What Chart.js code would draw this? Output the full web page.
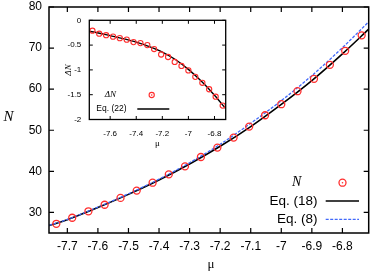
<!DOCTYPE html>
<html><head><meta charset="utf-8">
<script src="https://cdn.jsdelivr.net/npm/chart.js@4"></script>
<style>
html,body{margin:0;padding:0;background:#fff;}
#wrap{position:relative;width:374px;height:271px;}
canvas{position:absolute;left:0;top:0;width:374px;height:271px;}
</style></head><body>
<div id="wrap"><canvas id="main" width="374" height="271"></canvas><canvas id="inset" width="374" height="271"></canvas></div>
<script>
// ---- data ----
const mu = [-7.736,-7.684,-7.631,-7.578,-7.526,-7.473,-7.421,-7.368,-7.315,-7.263,-7.209,-7.156,-7.105,-7.053,-7.000,-6.947,-6.893,-6.841,-6.791,-6.737];
const nPoints = [27.24,28.71,30.28,31.88,33.54,35.32,37.24,39.27,41.22,43.49,45.78,48.22,50.90,53.66,56.34,59.51,62.51,65.93,69.34,73.10];
const curveMu = [-7.76,-7.7,-7.6,-7.5,-7.4,-7.3,-7.2,-7.1,-7.0,-6.9,-6.8,-6.714];
const eq18 = [26.8,28.25,31.2,34.4,37.9,41.8,46.1,50.9,56.3,62.1,68.6,74.6];
const eq8 = [26.85,28.3,31.3,34.55,38.1,42.1,46.6,51.7,57.2,63.3,70.1,76.4];
const dN = [-0.21,-0.27,-0.30,-0.33,-0.36,-0.39,-0.44,-0.46,-0.50,-0.58,-0.69,-0.74,-0.84,-0.92,-1.01,-1.14,-1.26,-1.39,-1.54,-1.72];
const eq22 = [-0.22,-0.25,-0.31,-0.37,-0.44,-0.53,-0.64,-0.79,-0.99,-1.23,-1.51,-1.78];
const xTicksMain = [-7.7,-7.6,-7.5,-7.4,-7.3,-7.2,-7.1,-7.0,-6.9,-6.8];
const yTicksMain = [30,40,50,60,70,80];
const xTicksInset = [-7.6,-7.4,-7.2,-7.0,-6.8];
const yTicksInset = [0,-0.5,-1,-1.5,-2];
const labelN = 'N', label18 = 'Eq. (18)', label8 = 'Eq. (8)';
const labelDN = '\u0394N', label22 = 'Eq. (22)';
const xTitle = '\u03bc', yTitleMain = 'N', yTitleInset = '\u0394N';

const pts = (xs, ys) => xs.map((x, i) => ({x, y: ys[i]}));
const fmt = v => String(parseFloat(Number(v).toFixed(2)));
const RED = 'rgb(255,45,45)', BLUE = 'rgb(65,105,250)';
const SANS = "'Liberation Sans', Arial, sans-serif";
const SERIF = "'Liberation Serif', 'DejaVu Serif', serif";

const decor = {
  id: 'decor',
  afterDraw(chart, args, o) {
    const ctx = chart.ctx, a = chart.chartArea, xs = chart.scales.x, ys = chart.scales.y;
    ctx.save();
    ctx.strokeStyle = '#000';
    ctx.lineWidth = o.frameWidth;
    ctx.strokeRect(a.left, a.top, a.right - a.left, a.bottom - a.top);
    ctx.lineWidth = o.tickWidth;
    ctx.beginPath();
    xs.ticks.forEach(t => {
      const p = xs.getPixelForValue(t.value);
      ctx.moveTo(p, a.bottom); ctx.lineTo(p, a.bottom - o.tickLen);
      ctx.moveTo(p, a.top); ctx.lineTo(p, a.top + o.tickLen);
    });
    ys.ticks.forEach(t => {
      const p = ys.getPixelForValue(t.value);
      ctx.moveTo(a.left, p); ctx.lineTo(a.left + o.tickLen, p);
      ctx.moveTo(a.right, p); ctx.lineTo(a.right - o.tickLen, p);
    });
    ctx.stroke();
    ctx.fillStyle = '#000';
    ctx.textAlign = 'center';
    ctx.textBaseline = 'middle';
    (o.texts || []).forEach(t => {
      ctx.save();
      ctx.font = t.font;
      ctx.translate(t.x, t.y);
      if (t.rot) ctx.rotate(t.rot);
      ctx.textAlign = t.align || 'center';
      ctx.fillText(t.text, 0, 0);
      ctx.restore();
    });
    (o.legend || []).forEach(it => {
      const ds = chart.data.datasets[it.ds];
      ctx.save();
      ctx.font = it.font;
      ctx.textAlign = it.align;
      ctx.fillStyle = '#000';
      ctx.fillText(ds.label, it.tx, it.y);
      if (it.kind === 'point') {
        const cx = (it.x1 + it.x2) / 2;
        ctx.strokeStyle = ds.borderColor;
        ctx.lineWidth = ds.borderWidth;
        ctx.beginPath(); ctx.arc(cx, it.y, ds.pointRadius, 0, Math.PI * 2); ctx.stroke();
        ctx.fillStyle = ds.borderColor;
        ctx.beginPath(); ctx.arc(cx, it.y, 0.8, 0, Math.PI * 2); ctx.fill();
      } else {
        ctx.strokeStyle = ds.borderColor;
        ctx.lineWidth = ds.borderWidth;
        ctx.setLineDash(ds.borderDash || []);
        ctx.beginPath(); ctx.moveTo(it.x1, it.y); ctx.lineTo(it.x2, it.y); ctx.stroke();
      }
      ctx.restore();
    });
    ctx.restore();
  }
};

function scaleCfg(min, max, tickVals, size, pad, fitKey, fitVal) {
  return {
    type: 'linear', min, max,
    grid: {display: false, drawTicks: false},
    border: {display: false},
    afterBuildTicks: s => { s.ticks = tickVals.map(v => ({value: v})); },
    afterFit: s => {
      s[fitKey] = fitVal;
      s.paddingTop = 0; s.paddingBottom = 0; s.paddingLeft = 0; s.paddingRight = 0;
    },
    ticks: {color: '#000', font: {family: SANS, size}, padding: pad, callback: fmt, maxRotation: 0, autoSkip: false}
  };
}

new Chart(document.getElementById('main'), {
  type: 'scatter',
  data: {datasets: [
    {label: labelN, data: pts(mu, nPoints), showLine: false, pointStyle: 'circle', pointRadius: 3.5, pointBorderWidth: 1.3, borderWidth: 1.3, borderColor: RED, pointBorderColor: RED, backgroundColor: 'rgba(0,0,0,0)', pointBackgroundColor: 'rgba(0,0,0,0)', order: 0},
    {label: label18, data: pts(curveMu, eq18), showLine: true, pointRadius: 0, borderColor: '#000', borderWidth: 1.6, cubicInterpolationMode: 'monotone', order: 2},
    {label: label8, data: pts(curveMu, eq8), showLine: true, pointRadius: 0, borderColor: BLUE, borderWidth: 1.3, borderDash: [3, 1.5], cubicInterpolationMode: 'monotone', order: 1}
  ]},
  options: {
    responsive: false, animation: false, devicePixelRatio: 1,
    layout: {padding: {left: 0, right: 1, top: 7, bottom: 0}},
    plugins: {legend: {display: false}, tooltip: {enabled: false},
      decor: {frameWidth: 1.5, tickWidth: 1.2, tickLen: 5,
        texts: [
          {text: xTitle, x: 211, y: 265, font: `13px ${SERIF}`},
          {text: yTitleMain, x: 8.5, y: 117, font: `italic 15px ${SERIF}`}
        ],
        legend: [
          {ds: 0, kind: 'point', tx: 296.7, align: 'center', y: 182.7, x1: 326, x2: 359, font: `italic 14px ${SERIF}`},
          {ds: 1, kind: 'line', tx: 317.5, align: 'right', y: 201, x1: 325.7, x2: 359, font: `13.5px ${SANS}`},
          {ds: 2, kind: 'line', tx: 317.5, align: 'right', y: 219.3, x1: 325.7, x2: 359, font: `13.5px ${SANS}`}
        ]}
    },
    scales: {
      x: scaleCfg(-7.76, -6.714, xTicksMain, 12, 6, 'height', 38),
      y: scaleCfg(25, 80, yTicksMain, 12, 7, 'width', 49)
    }
  },
  plugins: [decor]
});

new Chart(document.getElementById('inset'), {
  type: 'scatter',
  data: {datasets: [
    {label: labelDN, data: pts(mu, dN), showLine: false, pointStyle: 'circle', pointRadius: 2.6, pointBorderWidth: 1.1, borderWidth: 1.1, borderColor: RED, pointBorderColor: RED, backgroundColor: 'rgba(0,0,0,0)', pointBackgroundColor: 'rgba(0,0,0,0)', order: 0},
    {label: label22, data: pts(curveMu, eq22), showLine: true, pointRadius: 0, borderColor: '#000', borderWidth: 1.4, cubicInterpolationMode: 'monotone', order: 1}
  ]},
  options: {
    responsive: false, animation: false, devicePixelRatio: 1,
    layout: {padding: {left: 60, right: 148.3, top: 20.3, bottom: 0}},
    plugins: {legend: {display: false}, tooltip: {enabled: false},
      decor: {frameWidth: 1.3, tickWidth: 1.0, tickLen: 3.5,
        texts: [
          {text: xTitle, x: 157.5, y: 143.3, font: `9px ${SERIF}`},
          {text: yTitleInset, x: 68.3, y: 70, rot: -Math.PI / 2, font: `italic 9px ${SERIF}`}
        ],
        legend: [
          {ds: 0, kind: 'point', tx: 110.3, align: 'center', y: 95, x1: 140, x2: 163.4, font: `italic 9px ${SERIF}`},
          {ds: 1, kind: 'line', tx: 126.5, align: 'right', y: 109, x1: 137.3, x2: 169.3, font: `8.5px ${SANS}`}
        ]}
    },
    scales: {
      x: scaleCfg(-7.76, -6.714, xTicksInset, 8, 9, 'height', 151.5),
      y: scaleCfg(-2, 0, yTicksInset, 8, 8, 'width', 29.3)
    }
  },
  plugins: [decor]
});
</script>
</body></html>
